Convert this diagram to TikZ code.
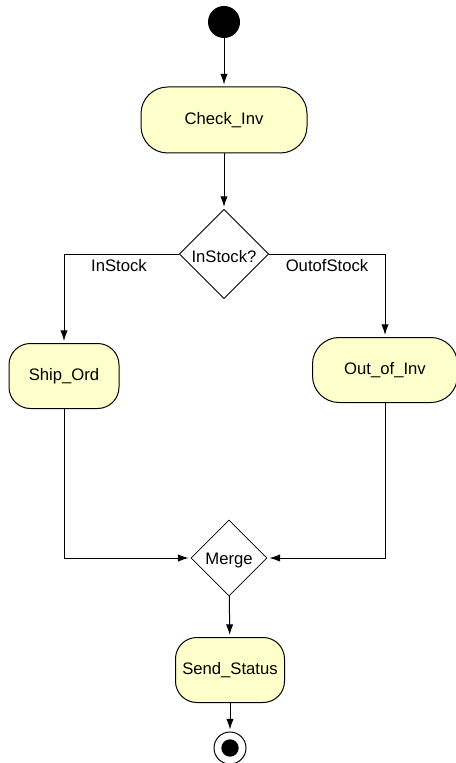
\documentclass[tikz,border=0pt]{standalone}
\usepackage{fontspec}
\setmainfont{Liberation Sans}
\usetikzlibrary{shapes.geometric,arrows.meta}
\definecolor{actfill}{RGB}{255,255,204}

\tikzset{
  activity/.style={draw, line width=0.75pt, fill=actfill, rounded corners=16pt,
    inner sep=0pt, font=\fontsize{12.5}{14}\selectfont},
  decision/.style={draw, line width=0.6pt, diamond, aspect=1, inner sep=0pt,
    fill=white, label={[font=\fontsize{12.5}{14}\selectfont, inner sep=0pt, yshift=-2pt]center:#1}},
  flow/.style={line width=0.75pt, -{Latex[length=8pt,width=5.5pt]}, shorten >=1.5pt},
  guard/.style={font=\fontsize{12.5}{14}\selectfont, inner sep=0pt}
}

\begin{document}
\begin{tikzpicture}[x=0.75pt,y=0.75pt,yscale=-1,xscale=1]
\useasboundingbox (0,0) rectangle (455,763);

%Shape: Start
\node [circle, fill=black, minimum size=24pt, inner sep=0pt] (start) at (224,22) {};
%Shape: Activities
\node [activity, minimum width=124.5pt, minimum height=49.5pt, rounded corners=20pt] (check) at (224,120) {Check\_Inv};
\node [activity, minimum width=82.5pt, minimum height=48.75pt] (ship) at (64,376) {Ship\_Ord};
\node [activity, minimum width=108.75pt, minimum height=48.75pt, rounded corners=20pt] (outinv) at (385,370) {Out\_of\_Inv};
\node [activity, minimum width=81.75pt, minimum height=48.75pt] (send) at (230,670) {Send\_Status};
%Shape: Decisions
\node [decision={InStock?}, minimum width=67pt, minimum height=67pt] (instock) at (224,254) {};
\node [decision={Merge}, minimum width=57pt, minimum height=57pt] (merge) at (229,558) {};
%Shape: End
\node [circle, draw, line width=0.75pt, fill=white, minimum size=24pt, inner sep=0pt] (stop) at (230,748) {};
\node [circle, fill=black, minimum size=13pt, inner sep=0pt] (stopdot) at (stop.center) {};

%Straight Lines
\draw [flow] (start) -- (check);
\draw [flow] (check) -- (instock);
\draw [flow] (instock.west) -| (ship.north);
\draw [flow] (instock.east) -| (outinv.north);
\draw [flow] (ship.south) |- (merge.west);
\draw [flow] (outinv.south) |- (merge.east);
\draw [flow] (merge) -- (send);
\draw [flow] (send) -- (stop);

% Text Node
\node [guard] (lblin) at (119,266) {InStock};
\node [guard] (lblout) at (327,266) {OutofStock};

\end{tikzpicture}
\end{document}
